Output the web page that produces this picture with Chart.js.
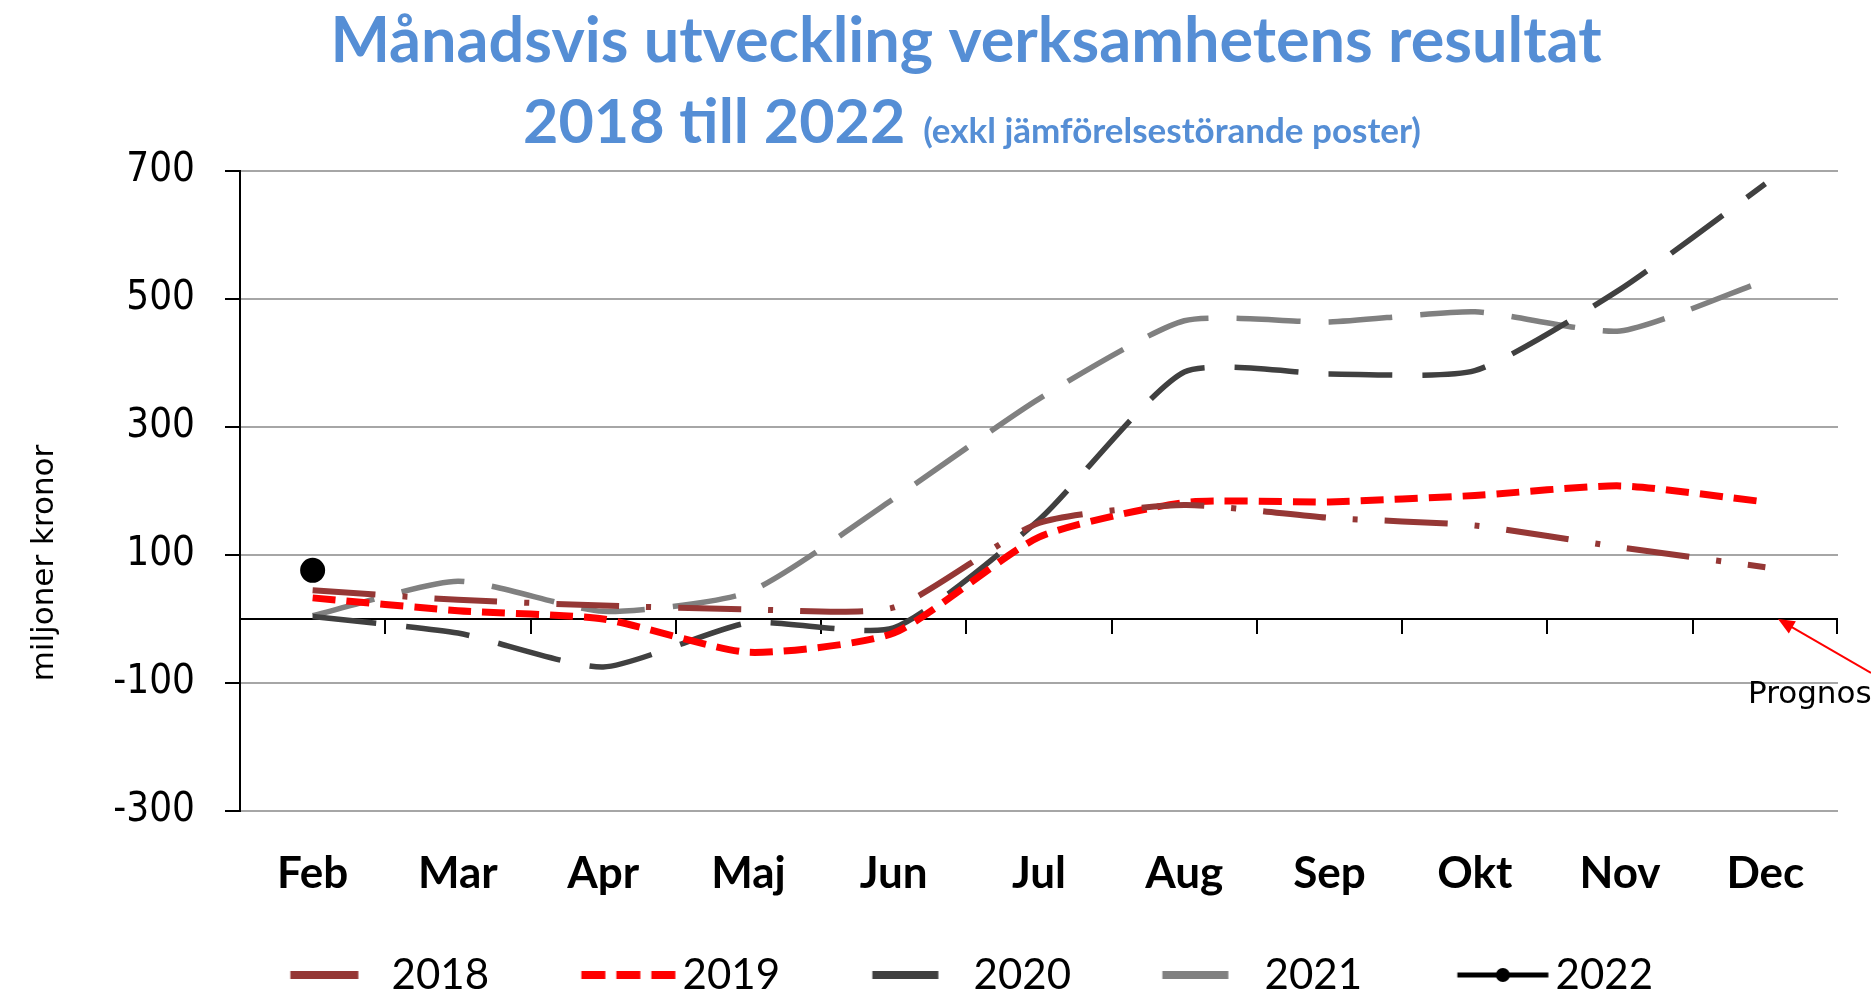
<!DOCTYPE html>
<html>
<head>
<meta charset="utf-8">
<script src="https://cdn.jsdelivr.net/npm/chart.js@4/dist/chart.umd.min.js"></script>
<style>
  html, body { margin: 0; padding: 0; background: #fff; }
</style>
</head>
<body>
<canvas id="chart" width="1871" height="995"></canvas>
<script>
// === DATA ===
const months = ["Feb", "Mar", "Apr", "Maj", "Jun", "Jul", "Aug", "Sep", "Okt", "Nov", "Dec"];
const years = ["2018", "2019", "2020", "2021", "2022"];
const res2018 = [45, 30, 21, 15, 18, 150, 178, 158, 146, 112, 81];
const res2019 = [33, 13, 0, -52, -22, 128, 182, 183, 193, 208, 183];
const res2020 = [4, -22, -75, -6, -14, 155, 386, 383, 388, 515, 680];
const res2021 = [5, 59, 12, 42, 188, 344, 466, 464, 480, 450, 529];
const res2022 = [76];
const yTicks = [-300, -100, 100, 300, 500, 700];

const TITLE_1 = "Månadsvis utveckling verksamhetens resultat";
const TITLE_2 = "2018 till 2022";
const TITLE_2B = "(exkl jämförelsestörande poster)";
const Y_TITLE = "miljoner kronor";
const NOTE = "Prognos";
const TITLE_COLOR = "#558ED5";

const COLORS = ["#953735", "#FF0000", "#404040", "#808080", "#000000"];

// === LEGEND SAMPLES ===
const LEG_FS = 42;
const LEG_PAD = 4;
const PITCH = 291;
const mctx = document.createElement("canvas").getContext("2d");
mctx.font = LEG_FS + "px Lato";
const tw = mctx.measureText("2018").width;
const BOXW = PITCH - LEG_FS / 2 - tw - LEG_PAD;
const padLeft = Math.round(391 + 1556 - PITCH - 1838 + 2 * tw + LEG_PAD);

// sample start/end measured back from where the label text begins
const sampleSpan = [[101, 33], [101, 6], [101, 35], [102, 36], [98, 7]];

function legendSample(i) {
  const c = document.createElement("canvas");
  c.width = Math.round(BOXW + 40);
  c.height = 24;
  const g = c.getContext("2d");
  const textStart = BOXW + LEG_FS / 2 + 20;
  const x1 = textStart - sampleSpan[i][0];
  const x2 = textStart - sampleSpan[i][1];
  g.strokeStyle = COLORS[i];
  g.lineWidth = i === 4 ? 5 : 8;
  if (i === 1) g.setLineDash([24, 11]);
  g.beginPath();
  g.moveTo(x1, 12);
  g.lineTo(x2, 12);
  g.stroke();
  if (i === 4) {
    g.fillStyle = COLORS[4];
    g.beginPath();
    g.arc((x1 + x2) / 2, 12, 7, 0, Math.PI * 2);
    g.fill();
  }
  return c;
}
const legendImgs = years.map((y, i) => legendSample(i));

// === PLUGINS ===
const zeroAxis = {
  id: "zeroAxis",
  beforeDatasetsDraw(chart) {
    const { ctx, chartArea, scales: { x, y } } = chart;
    const y0 = y.getPixelForValue(0);
    ctx.save();
    ctx.strokeStyle = "#000";
    ctx.lineWidth = 2;
    ctx.beginPath();
    ctx.moveTo(chartArea.left, y0);
    ctx.lineTo(chartArea.right, y0);
    for (let i = 1; i <= months.length; i++) {
      const bx = i < months.length
        ? (x.getPixelForValue(i - 1) + x.getPixelForValue(i)) / 2
        : chartArea.right - 1;
      ctx.moveTo(Math.round(bx), y0);
      ctx.lineTo(Math.round(bx), y0 + 15);
    }
    ctx.stroke();
    ctx.restore();
  }
};

const texts = {
  id: "texts",
  afterDraw(chart) {
    const { ctx, chartArea, scales: { y } } = chart;
    ctx.save();
    // title
    ctx.fillStyle = TITLE_COLOR;
    ctx.textBaseline = "alphabetic";
    ctx.textAlign = "center";
    ctx.font = "bold 63px Lato";
    ctx.fillText(TITLE_1, 966, 62);
    ctx.font = "bold 61px Lato";
    const w1 = ctx.measureText(TITLE_2).width;
    ctx.font = "bold 35px Lato";
    const w2 = ctx.measureText(TITLE_2B).width;
    const gap = 18;
    let tx = 972 - (w1 + gap + w2) / 2;
    ctx.textAlign = "left";
    ctx.font = "bold 61px Lato";
    ctx.fillText(TITLE_2, tx, 143);
    ctx.font = "bold 35px Lato";
    ctx.fillText(TITLE_2B, tx + w1 + gap, 143);

    // y title
    ctx.fillStyle = "#000";
    ctx.font = "31px 'DejaVu Sans'";
    ctx.textAlign = "center";
    ctx.textBaseline = "middle";
    ctx.translate(45, 563);
    ctx.rotate(-Math.PI / 2);
    ctx.fillText(Y_TITLE, 0, 0);
    ctx.restore();

    // Prognos note + arrow
    const y0 = y.getPixelForValue(0);
    const tipX = chartArea.right - 60;
    ctx.save();
    ctx.fillStyle = "#000";
    ctx.font = "31px 'DejaVu Sans'";
    ctx.textAlign = "left";
    ctx.textBaseline = "alphabetic";
    ctx.fillText(NOTE, chartArea.right - 90, y0 + 84);
    ctx.strokeStyle = "#FF0000";
    ctx.fillStyle = "#FF0000";
    ctx.lineWidth = 2;
    const ex = chart.width, ey = y0 + 54;
    const ang = Math.atan2(y0 - ey, tipX - ex);
    ctx.beginPath();
    ctx.moveTo(ex, ey);
    ctx.lineTo(tipX - 12 * Math.cos(ang), y0 - 12 * Math.sin(ang));
    ctx.stroke();
    ctx.beginPath();
    ctx.moveTo(tipX, y0);
    ctx.lineTo(tipX - 18 * Math.cos(ang - 0.4), y0 - 18 * Math.sin(ang - 0.4));
    ctx.lineTo(tipX - 18 * Math.cos(ang + 0.4), y0 - 18 * Math.sin(ang + 0.4));
    ctx.closePath();
    ctx.fill();
    ctx.restore();
  }
};

// === CHART ===
const lineDs = (label, data, color, width, dash) => ({
  label, data,
  borderColor: color,
  backgroundColor: color,
  borderWidth: width,
  borderDash: dash,
  borderCapStyle: "butt",
  pointRadius: 0,
  tension: 0.2,
  fill: false
});

new Chart(document.getElementById("chart"), {
  type: "line",
  data: {
    labels: months,
    datasets: [
      lineDs(years[0], res2018, COLORS[0], 6, [63, 27, 5, 27]),
      lineDs(years[1], res2019, COLORS[1], 7, [23, 11]),
      lineDs(years[2], res2020, COLORS[2], 5.5, [64, 30]),
      lineDs(years[3], res2021, COLORS[3], 5.5, [64, 28]),
      {
        label: years[4],
        data: res2022,
        borderColor: COLORS[4],
        backgroundColor: COLORS[4],
        borderWidth: 3,
        pointRadius: 11,
        pointStyle: "circle"
      }
    ]
  },
  options: {
    responsive: false,
    animation: false,
    layout: { padding: { top: 171, left: padLeft, right: 33, bottom: -11 } },
    plugins: {
      tooltip: { enabled: false },
      title: { display: false },
      legend: {
        position: "bottom",
        labels: {
          usePointStyle: true,
          pointStyleWidth: BOXW,
          padding: LEG_PAD,
          color: "#000",
          font: { family: "Lato", size: LEG_FS },
          generateLabels: chart => chart.data.datasets.map((ds, i) => ({
            text: ds.label,
            pointStyle: legendImgs[i],
            datasetIndex: i,
            hidden: false,
            lineWidth: 0,
            fontColor: "#000",
            strokeStyle: "transparent",
            fillStyle: "transparent"
          }))
        }
      }
    },
    scales: {
      x: {
        offset: true,
        grid: { display: false, drawTicks: false, offset: true },
        border: { display: false },
        ticks: {
          color: "#000",
          font: { family: "Lato", size: 44, weight: "bold" },
          padding: 36,
          maxRotation: 0,
          autoSkip: false
        },
        afterFit: s => { s.height = 139; }
      },
      y: {
        min: yTicks[0],
        max: yTicks[yTicks.length - 1],
        afterBuildTicks: s => { s.ticks = yTicks.map(v => ({ value: v })); },
        grid: { color: "#A6A6A6", lineWidth: 2, tickColor: "#000", tickLength: 15, tickWidth: 2 },
        border: { display: true, color: "#000", width: 2 },
        ticks: {
          color: "#000",
          padding: 30,
          font: { family: "'DejaVu Sans Condensed', 'DejaVu Sans'", size: 40 }
        },
        afterFit: s => { s.width = 240 - padLeft; }
      }
    }
  },
  plugins: [zeroAxis, texts]
});
</script>
</body>
</html>
